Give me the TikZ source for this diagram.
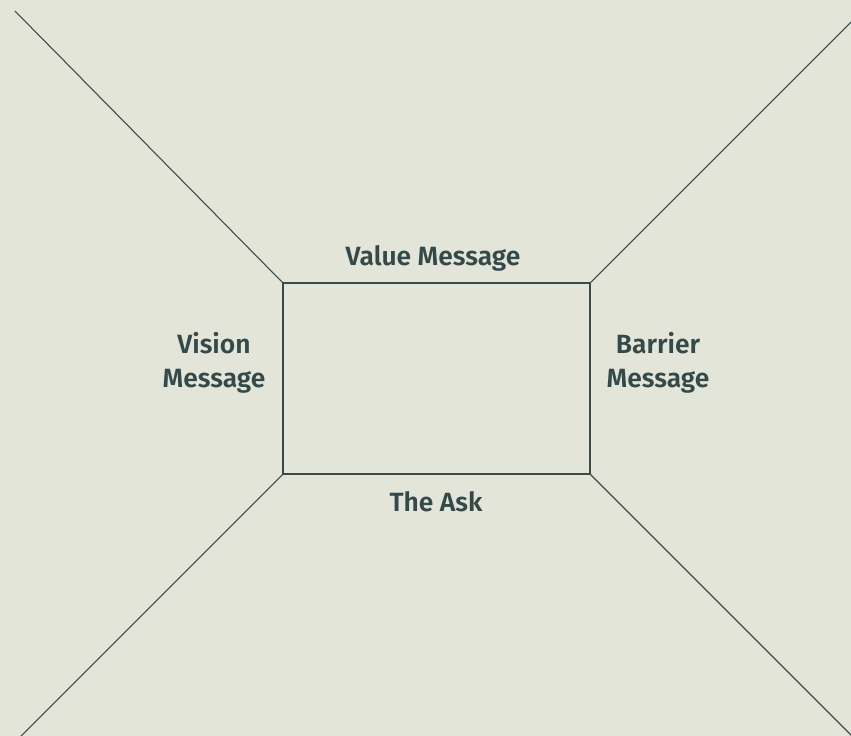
\documentclass[tikz,border=0pt]{standalone}
\usepackage{fontspec}
\setmainfont{Fira Sans}[UprightFont=* SemiBold]
\usepackage{tikz}
\usetikzlibrary{positioning}
\definecolor{bgshade}{HTML}{E3E5D8}
\definecolor{lineslate}{HTML}{3A4A4A}
\definecolor{textslate}{HTML}{34494A}
\tikzstyle{wall}=[draw=lineslate, line width=0.8pt]
\tikzstyle{msg}=[text=textslate, font=\fontsize{19.8}{25.5}\selectfont, align=center, inner sep=0pt]

\begin{document}
\begin{tikzpicture}[x=0.75pt, y=-0.75pt]
	\fill[bgshade] (0,0) rectangle (851,736);
	\useasboundingbox (0,0) rectangle (851,736);
	\clip (0,0) rectangle (851,736);
	% the back wall
	\node[wall, minimum width=230.25pt, minimum height=143.25pt, inner sep=0pt] (box) at (436.5,378.5) {};
	\coordinate (tl) at (15,11);
	\coordinate (tr) at (880,-7);
	\coordinate (bl) at (10,747);
	\coordinate (br) at (870,754);
	\draw[wall] (box.north west) -- (tl);
	\draw[wall] (box.north east) -- (tr);
	\draw[wall] (box.south west) -- (bl);
	\draw[wall] (box.south east) -- (br);
	\node[msg] (value) at (433,258.5) {Value Message};
	\node[msg] (vision) at (214,363) {Vision\\Message};
	\node[msg] (barrier) at (658,363) {Barrier\\Message};
	\node[msg] (ask) at (436,501.5) {The Ask};
\end{tikzpicture}
\end{document}
